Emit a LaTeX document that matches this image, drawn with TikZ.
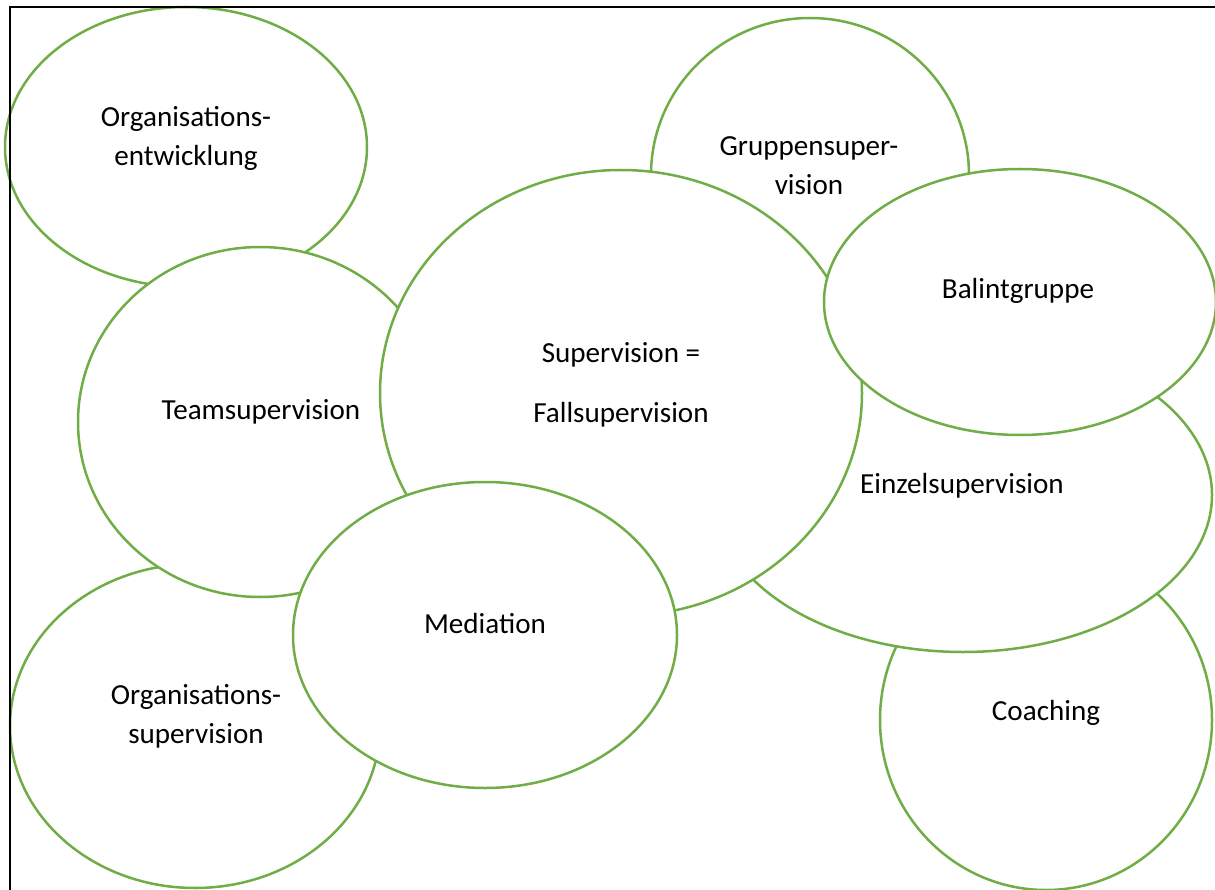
\documentclass[tikz,border=0pt]{standalone}
\usepackage{fontspec}
\setmainfont{Carlito}
\usetikzlibrary{shapes.geometric}
\definecolor{bubblegreen}{HTML}{70AD47}
\begin{document}
\begin{tikzpicture}[x=1pt,y=-1pt,
  bubble/.style={ellipse, draw=bubblegreen, line width=2.5pt, fill=white, inner sep=0pt, outer sep=0pt},
  lbl/.style={font=\fontsize{29.1}{39}\selectfont, align=center, inner sep=0pt, text=black, anchor=base}]
\useasboundingbox (0,0) rectangle (1215,890);
\clip (0,0) rectangle (1215,890);
% bubbles, back to front (label anchor = baseline of last line)
\node[bubble, minimum width=362pt, minimum height=280pt] (oe) at (186,147) {};
\node[lbl] (oe-t) at (186,166) {Organisations-\\entwicklung};
\node[bubble, minimum width=370pt, minimum height=324pt] (os) at (195,726) {};
\node[lbl] (os-t) at (196,743) {Organisations-\\supervision};
\node[bubble, minimum width=364pt, minimum height=350pt] (ts) at (260,422) {};
\node[lbl] (ts-t) at (261,419) {Teamsupervision};
\node[bubble, minimum width=318pt, minimum height=314pt] (gs) at (810,175) {};
\node[lbl] (gs-t) at (809,195) {Gruppensuper-\\vision};
\node[bubble, minimum width=332pt, minimum height=340pt] (co) at (1046,720) {};
\node[lbl] (co-t) at (1046,720) {Coaching};
\node[bubble, minimum width=498pt, minimum height=314pt] (es) at (963,495) {};
\node[lbl] (es-t) at (962,493) {Einzelsupervision};
\node[bubble, minimum width=482pt, minimum height=446pt] (sv) at (621,393) {};
\node[lbl] (sv-t) at (621,422) {Supervision =\\[21pt]Fallsupervision};
\node[bubble, minimum width=392pt, minimum height=266pt] (bg) at (1020,302) {};
\node[lbl] (bg-t) at (1018,299) {Balintgruppe};
\node[bubble, minimum width=384pt, minimum height=306pt] (me) at (485,635) {};
\node[lbl] (me-t) at (485,633) {Mediation};
% frame (left and top edges)
\coordinate (fbl) at (10,890);
\coordinate (ftl) at (10,7);
\coordinate (ftr) at (1215,7);
\draw[line width=2pt, black] (fbl) -- (ftl) -- (ftr);
\end{tikzpicture}
\end{document}
